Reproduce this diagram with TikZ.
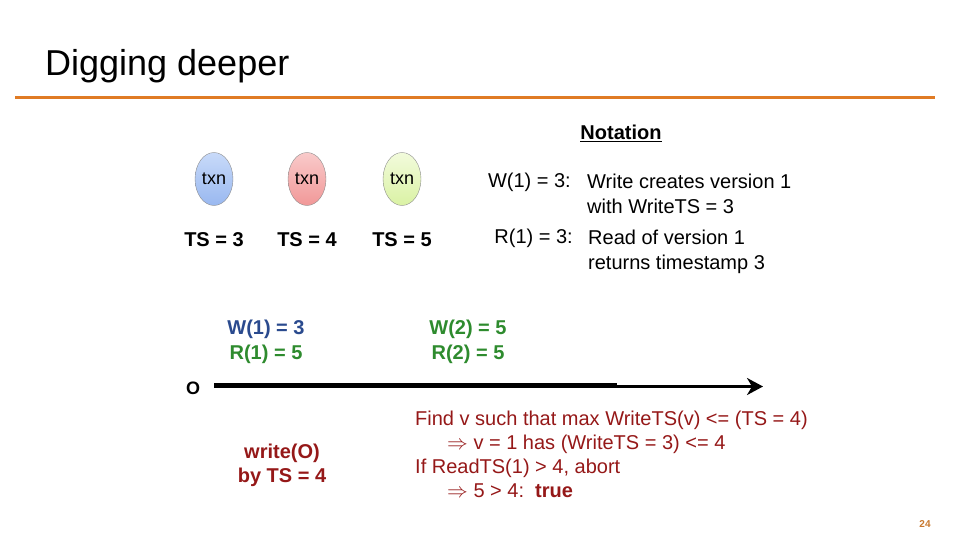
\documentclass[tikz,border=0pt]{standalone}
\usepackage{fontspec}
\setmainfont{Liberation Sans}
\usepackage{xcolor}
\definecolor{cRule}{HTML}{E07B24}
\definecolor{cDark}{HTML}{951818}
\definecolor{cNavy}{HTML}{2A4A8E}
\definecolor{cGreen}{HTML}{2E8B2E}
\definecolor{cPage}{HTML}{C8782E}
\definecolor{cEdge}{HTML}{8C8C8C}
\definecolor{cBlueTop}{HTML}{C8DAF9}
\definecolor{cBlueBot}{HTML}{99B8F0}
\definecolor{cRedTop}{HTML}{F9CACA}
\definecolor{cRedBot}{HTML}{F19898}
\definecolor{cGreenTop}{HTML}{F2FBDC}
\definecolor{cGreenBot}{HTML}{DAF2A4}
\usepackage{tikz}
\usetikzlibrary{positioning,arrows.meta,shapes.geometric}
\tikzset{
  title-text/.style={inner sep=0pt,font=\fontsize{36}{40}\selectfont},
  title-rule/.style={draw=cRule,line width=3pt},
  txn-node/.style={ellipse,draw=cEdge,thin,minimum width=38pt,minimum height=53pt,
    inner sep=0pt,font=\fontsize{18}{20}\selectfont},
  txn-blue/.style={top color=cBlueTop,bottom color=cBlueBot},
  txn-red/.style={top color=cRedTop,bottom color=cRedBot},
  txn-green/.style={top color=cGreenTop,bottom color=cGreenBot},
  ts-label/.style={inner sep=0pt,font=\fontsize{20}{22}\selectfont\bfseries},
  note-head/.style={inner sep=0pt,font=\fontsize{20}{22}\selectfont\bfseries},
  note-key/.style={anchor=east,inner sep=0pt,font=\fontsize{20}{24}\selectfont},
  note-desc/.style={anchor=north west,align=left,inner sep=0pt,font=\fontsize{20}{25}\selectfont},
  ver-label/.style={align=center,inner sep=0pt,font=\fontsize{20}{25}\selectfont\bfseries},
  obj-label/.style={inner sep=0pt,font=\fontsize{18}{20}\selectfont\bfseries},
  timeline/.style={draw=black,line width=5pt},
  timeline-tip/.style={draw=black,line width=3.5pt,-{Stealth[length=16pt,width=17pt,inset=5pt]}},
  op-label/.style={align=center,inner sep=0pt,text=cDark,font=\fontsize{20}{24}\selectfont\bfseries},
  op-steps/.style={anchor=north west,align=left,inner sep=0pt,text=cDark,
    font=\fontsize{20}{24}\selectfont},
  page-num/.style={inner sep=0pt,text=cPage,font=\fontsize{10}{12}\selectfont\bfseries},
}

\begin{document}
\begin{tikzpicture}[x=1pt,y=-1pt]
  \useasboundingbox (0,0) rectangle (960,540);

  % title bar
  \node[title-text,anchor=base west] (title) at (45,76) {Digging deeper};
  \draw[title-rule] (15,98) -- (935,98);

  % transactions
  \node[txn-node,txn-blue] (txnA) at (214,179) {txn};
  \node[txn-node,txn-red] (txnB) at (307,179) {txn};
  \node[txn-node,txn-green] (txnC) at (402,179) {txn};
  \node[ts-label,below=27pt of txnA] (tsA) {TS = 3};
  \node[ts-label,below=27pt of txnB] (tsB) {TS = 4};
  \node[ts-label,below=27pt of txnC] (tsC) {TS = 5};

  % notation
  \node[note-head] (notation) at (621,133) {\underline{Notation}};
  \node[note-key] (keyW) at (571,182) {W(1) = 3:};
  \node[note-desc] (descW) at (587,174) {Write creates version 1\\with WriteTS = 3};
  \node[note-key] (keyR) at (573,238) {R(1) = 3:};
  \node[note-desc] (descR) at (588,230) {Read of version 1\\returns timestamp 3};

  % versions of O
  \node[ver-label] (ver1) at (266,341.5) {\textcolor{cNavy}{W(1) = 3}\\\textcolor{cGreen}{R(1) = 5}};
  \node[ver-label,text=cGreen] (ver2) at (468,341.5) {W(2) = 5\\R(2) = 5};

  % timeline of O
  \node[obj-label] (objO) at (193,388.5) {O};
  \coordinate (lineMid) at (617,385.5);
  \coordinate (lineEnd) at (763,386.5);
  \draw[timeline,shorten <=14pt] (objO.east |- lineMid) -- (lineMid);
  \draw[timeline-tip] (lineMid |- lineEnd) -- (lineEnd);

  % the write at TS = 4
  \node[op-label] (opWrite) at (282,465) {write(O)\\by TS = 4};
  \node[op-steps] (opSteps) at (415,411) {Find v such that max WriteTS(v) <= (TS = 4)\\
    \hspace*{32pt}$\Rightarrow$ v = 1 has (WriteTS = 3) <= 4\\
    If ReadTS(1) > 4, abort\\
    \hspace*{32pt}$\Rightarrow$ 5 > 4:\ \ \textbf{true}};

  \node[page-num] (page) at (925,524) {24};
\end{tikzpicture}
\end{document}
